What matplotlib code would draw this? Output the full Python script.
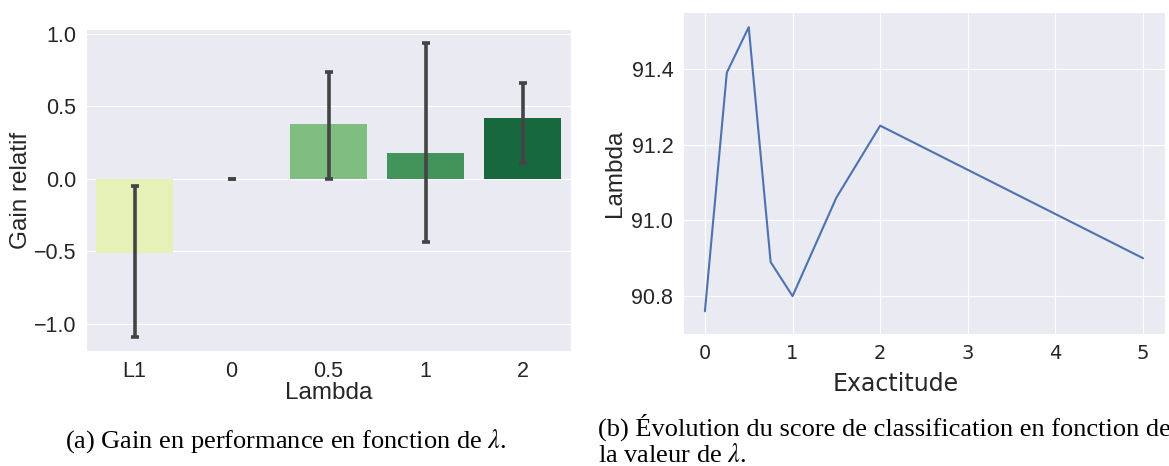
import matplotlib.pyplot as plt
import numpy as np
import seaborn as sns

# panel (a): relative gain per lambda
lambdas = ['L1', '0', '0.5', '1', '2']
gain = [-0.51, 0.0, 0.38, 0.18, 0.42]
err_low = [-1.09, 0.0, 0.0, -0.44, 0.11]
err_high = [-0.05, 0.0, 0.74, 0.94, 0.66]
bar_colors = ['#e6f1b7', '#c9e6a3', '#80bd80', '#42945a', '#18683f']

# panel (b): score vs lambda
lam_x = [0, 0.25, 0.5, 0.75, 1, 1.5, 2, 5]
score = [90.76, 91.39, 91.51, 90.89, 90.80, 91.06, 91.25, 90.90]

sns.set_style('darkgrid')
plt.rcParams['font.family'] = ['Liberation Sans', 'DejaVu Sans']
plt.rcParams['mathtext.fontset'] = 'stix'
plt.rcParams['text.color'] = '#262626'
plt.rcParams['axes.labelcolor'] = '#262626'
plt.rcParams['xtick.color'] = '#262626'
plt.rcParams['ytick.color'] = '#262626'

W, H = 1169, 466
fig = plt.figure(figsize=(W / 100, H / 100), dpi=100)

# left panel
ax1 = fig.add_axes([86 / W, 1 - 351 / H, (571 - 86) / W, (351 - 29) / H])
pos = np.arange(len(lambdas))
ax1.bar(pos, gain, width=0.8, color=bar_colors, linewidth=0)
g = np.array(gain)
yerr = [g - np.array(err_low), np.array(err_high) - g]
ax1.errorbar(pos, gain, yerr=yerr, fmt='none', ecolor='#444444', elinewidth=2.6,
             capsize=3, capthick=2.6)
ax1.set_xticks(pos)
ax1.set_xticklabels(lambdas)
ax1.set_xlim(-0.5, 4.5)
ax1.set_ylim(-1.19, 1.035)
ax1.set_yticks([-1.0, -0.5, 0.0, 0.5, 1.0])
ax1.grid(axis='x', visible=False)
ax1.tick_params(labelsize=15.5, length=0, pad=7)
ax1.set_xlabel('Lambda', fontsize=17.5, labelpad=0)
ax1.set_ylabel('Gain relatif', fontsize=17.5, labelpad=1)

# right panel
ax2 = fig.add_axes([683 / W, 1 - 334 / H, (1165 - 683) / W, (334 - 12) / H])
ax2.plot(lam_x, score, color='#4c72b0', linewidth=1.5)
ax2.set_xlim(-0.25, 5.25)
ax2.set_ylim(90.70, 91.55)
ax2.set_yticks([90.8, 91.0, 91.2, 91.4])
ax2.set_xticks([0, 1, 2, 3, 4, 5])
ax2.tick_params(labelsize=15.5, length=0, pad=7)
for t in ax2.get_xticklabels():
    t.set_family('DejaVu Sans')
    t.set_fontsize(14)
ax2.set_xlabel('Exactitude', fontsize=17, family='DejaVu Sans')
ax2.xaxis.set_label_coords(0.442, -0.117)
ax2.set_ylabel('Lambda', fontsize=17.5, labelpad=4)

# captions
cap = dict(family='Liberation Serif', fontsize=19, va='center', ha='left',
           color='black')
fig.text(65 / W, 1 - 441 / H, '(a) Gain en performance en fonction de $\\lambda$.', **cap)
fig.text(598 / W, 1 - 427 / H,
         '(b) Évolution du score de classification en fonction de', **cap)
fig.text(598 / W, 1 - 455 / H, 'la valeur de $\\lambda$.', **cap)

fig.savefig('out.png', dpi=100)
